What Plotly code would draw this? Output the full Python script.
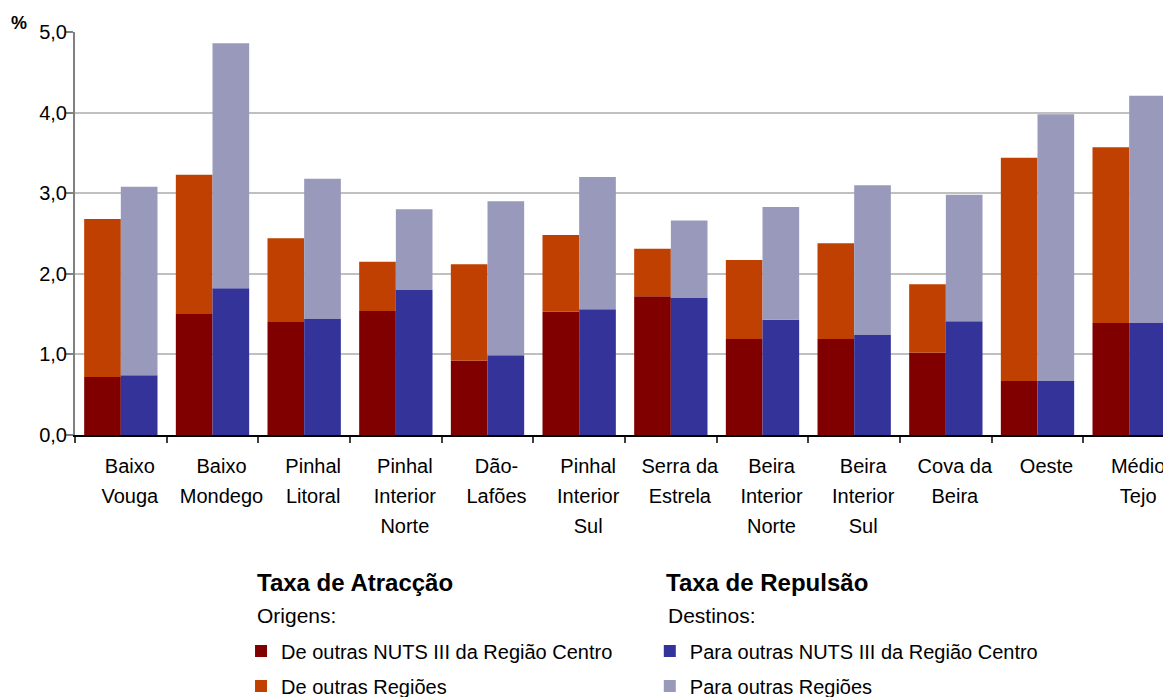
import plotly.graph_objects as go

# ---- data -------------------------------------------------------------
categories = ["Baixo Vouga", "Baixo Mondego", "Pinhal Litoral", "Pinhal Interior Norte",
              "Dão-Lafões", "Pinhal Interior Sul", "Serra da Estrela",
              "Beira Interior Norte", "Beira Interior Sul", "Cova da Beira",
              "Oeste", "Médio Tejo"]
label_line1 = ["Baixo", "Baixo", "Pinhal", "Pinhal", "Dão-", "Pinhal", "Serra da",
               "Beira", "Beira", "Cova da", "Oeste", "Médio"]
label_line2 = ["Vouga", "Mondego", "Litoral", "Interior", "Lafões", "Interior", "Estrela",
               "Interior", "Interior", "Beira", "", "Tejo"]
label_line3 = ["", "", "", "Norte", "", "Sul", "", "Norte", "Sul", "", "", ""]

# Taxa de Atracção (segments)
atr_nuts_centro = [0.72, 1.51, 1.41, 1.54, 0.92, 1.53, 1.72, 1.19, 1.19, 1.02, 0.67, 1.39]
atr_outras_reg = [1.96, 1.72, 1.03, 0.61, 1.20, 0.95, 0.59, 0.98, 1.19, 0.85, 2.77, 2.18]
# Taxa de Repulsão (segments)
rep_nuts_centro = [0.74, 1.82, 1.44, 1.80, 0.99, 1.56, 1.70, 1.43, 1.24, 1.41, 0.67, 1.39]
rep_outras_reg = [2.34, 3.04, 1.74, 1.00, 1.91, 1.64, 0.96, 1.40, 1.86, 1.57, 3.31, 2.82]

y_ticks = [0, 1, 2, 3, 4, 5]

# ---- style -------------------------------------------------------------
FONT = "Liberation Sans, Arial, sans-serif"
C_DARKRED = "#800000"
C_ORANGE = "#BF4000"
C_BLUE = "#333399"
C_LILAC = "#9999BB"

n = len(categories)
idx = list(range(n))
pos_atr = [i - 0.2 for i in idx]
pos_rep = [i + 0.2 for i in idx]
BW = 0.4

fig = go.Figure()
fig.add_trace(go.Bar(x=pos_atr, y=atr_nuts_centro, width=BW, marker_color=C_DARKRED,
                     marker_line_width=0, name="De outras NUTS III da Região Centro",
                     legend="legend", legendgroup="a1"))
fig.add_trace(go.Bar(x=pos_atr, y=atr_outras_reg, width=BW, marker_color=C_ORANGE,
                     marker_line_width=0, name="De outras Regiões",
                     legend="legend", legendgroup="a2"))
fig.add_trace(go.Bar(x=pos_rep, y=rep_nuts_centro, width=BW, marker_color=C_BLUE,
                     marker_line_width=0, name="Para outras NUTS III da Região Centro",
                     legend="legend2", legendgroup="r1"))
fig.add_trace(go.Bar(x=pos_rep, y=rep_outras_reg, width=BW, marker_color=C_LILAC,
                     marker_line_width=0, name="Para outras Regiões",
                     legend="legend2", legendgroup="r2"))

# invisible helpers so the label axes are drawn
for ax in ["x2", "x3", "x4"]:
    fig.add_trace(go.Scatter(x=[0], y=[0], xaxis=ax, yaxis="y", mode="markers",
                             marker=dict(opacity=0), showlegend=False, hoverinfo="skip"))

XR = [-0.5, 11.369]
boundaries = [i - 0.5 for i in range(n + 1)]

label_axis = dict(overlaying="x", anchor="y", side="bottom", range=XR, showgrid=False,
                  showline=False, zeroline=False, ticks="", tickmode="array",
                  tickvals=idx, tickfont=dict(family=FONT, size=20, color="#000000"),
                  ticklabelshift=9, ticklabeloverflow="allow", automargin=False)

legend_common = dict(xanchor="left", yanchor="top", bgcolor="rgba(0,0,0,0)",
                     traceorder="grouped", tracegroupgap=6,
                     font=dict(family=FONT, size=20, color="#000000"))

def heading(text, x, y, bold=False, size=20):
    return dict(text=f"<b>{text}</b>" if bold else text, xref="paper", yref="paper",
                x=x, y=y, xanchor="left", yanchor="middle", showarrow=False,
                font=dict(family=FONT, size=size, color="#000000"))

fig.update_layout(
    width=1163, height=697,
    margin=dict(l=75, r=0, t=32, b=262, autoexpand=False),
    paper_bgcolor="white", plot_bgcolor="white",
    barmode="relative",
    separators=",.",
    font=dict(family=FONT, size=20, color="#000000"),
    xaxis=dict(range=XR, tickmode="array", tickvals=boundaries,
               ticktext=["" for _ in boundaries], ticks="outside", ticklen=6,
               tickcolor="#404040", tickwidth=1.5, showline=True, linecolor="#000000",
               linewidth=1.5, showgrid=False, zeroline=False, automargin=False),
    xaxis2=dict(label_axis, ticktext=label_line1, ticklabelstandoff=17),
    xaxis3=dict(label_axis, ticktext=label_line2, ticklabelstandoff=47),
    xaxis4=dict(label_axis, ticktext=label_line3, ticklabelstandoff=77),
    yaxis=dict(range=[0, 5], tickmode="array", tickvals=y_ticks, tickformat=".1f",
               ticks="outside", ticklen=8, tickcolor="#808080", tickwidth=1.5,
               showline=True, linecolor="#808080", linewidth=2, automargin=False,
               showgrid=True, gridcolor="#C0C0C0", gridwidth=1.5, zeroline=False,
               ticklabelstandoff=-6,
               tickfont=dict(family=FONT, size=20, color="#000000")),
    legend=dict(legend_common, x=0.1526, y=-0.4876),
    legend2=dict(legend_common, x=0.5283, y=-0.4876),
    annotations=[
        dict(text="<b>%</b>", xref="paper", yref="paper", x=-0.0515, y=1.022,
             xanchor="center", yanchor="middle", showarrow=False,
             font=dict(family=FONT, size=18, color="#000000")),
        heading("Taxa de Atracção", 0.1655, -0.3648, bold=True, size=24),
        heading("Origens:", 0.1655, -0.449, size=21),
        heading("Taxa de Repulsão", 0.5414, -0.3648, bold=True, size=24),
        heading("Destinos:", 0.5428, -0.449, size=21),
    ],
    showlegend=True,
)

# let the figure fill the window exactly (no default page margin, no scrollbars)
fig.write_html("out.html",
               config={"displayModeBar": False},
               post_script="document.body.style.margin='0';"
                           "document.body.style.overflow='hidden';")
